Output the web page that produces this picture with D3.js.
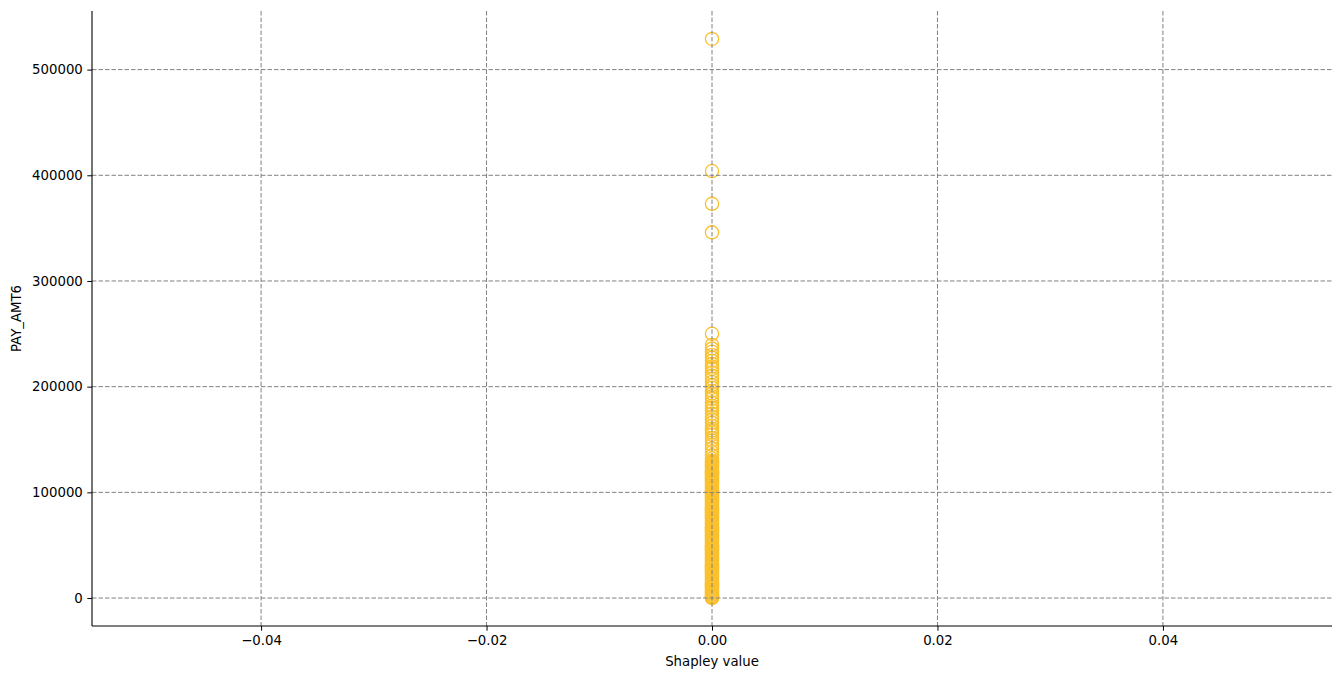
<!DOCTYPE html>
<html>
<head>
<meta charset="utf-8">
<script src="https://cdn.jsdelivr.net/npm/d3@7"></script>
<style>
  body { margin: 0; background: #fff; }
  text { font-family: "DejaVu Sans", sans-serif; }
</style>
</head>
<body>
<script>
// PAY_AMT6 values
var payAmt6 = [
  529000, 404000, 373000, 346000,
  250000, 239500, 236000, 233000, 230000, 227500, 224500, 221500,
  219000, 217000, 213500, 210500, 207500, 204500, 201500, 199000,
  196000, 193500, 191000, 188500, 185000, 182000, 180000, 177500,
  174500, 171500, 169000, 166000, 163000, 160500, 158500, 156500,
  154500, 151500, 149000, 145000, 141500, 138000, 135000, 132000,
  130000, 128000, 126000, 124000, 122000, 120000, 118000, 116000,
  114000, 112000, 110000, 108000, 106000, 104000, 102000, 100000,
  98000, 96000, 94000, 92000, 90000, 88000, 86000, 84000,
  82000, 80000, 78000, 76000, 74000, 72000, 70000, 68000,
  66000, 64000, 62000, 60000, 58000, 56000, 54000, 52000,
  50000, 48000, 46000, 44000, 42000, 40000, 38000, 36000,
  34000, 32000, 30000, 28000, 26000, 24000, 22000, 20000,
  18000, 16000, 14000, 12000, 10000, 9000, 8000, 7000,
  6000, 5000, 4000, 3000, 2000, 1500, 1000, 500,
  0,
  129000, 127000, 125000, 123000, 121000, 119000, 117000, 115000,
  113000, 111000, 109000, 107000, 105000, 103000, 101000, 99000,
  97000, 95000, 93000, 91000, 89000, 87000, 85000, 83000,
  81000, 79000, 77000, 75000, 73000, 71000, 69000, 67000,
  65000, 63000, 61000, 59000, 57000, 55000, 53000, 51000,
  49000, 47000, 45000, 43000, 41000, 39000, 37000, 35000,
  33000, 31000, 29000, 27000, 25000, 23000, 21000, 19000,
  17000, 15000, 13000, 11000
];
// Shapley value of each point (all zero in the picture)
var shapley = [
  0, 0, 0, 0,
  0, 0, 0, 0, 0, 0, 0, 0,
  0, 0, 0, 0, 0, 0, 0, 0,
  0, 0, 0, 0, 0, 0, 0, 0,
  0, 0, 0, 0, 0, 0, 0, 0,
  0, 0, 0, 0, 0, 0, 0, 0,
  0, 0, 0, 0, 0, 0, 0, 0,
  0, 0, 0, 0, 0, 0, 0, 0,
  0, 0, 0, 0, 0, 0, 0, 0,
  0, 0, 0, 0, 0, 0, 0, 0,
  0, 0, 0, 0, 0, 0, 0, 0,
  0, 0, 0, 0, 0, 0, 0, 0,
  0, 0, 0, 0, 0, 0, 0, 0,
  0, 0, 0, 0, 0, 0, 0, 0,
  0, 0, 0, 0, 0, 0, 0, 0,
  0,
  0, 0, 0, 0, 0, 0, 0, 0,
  0, 0, 0, 0, 0, 0, 0, 0,
  0, 0, 0, 0, 0, 0, 0, 0,
  0, 0, 0, 0, 0, 0, 0, 0,
  0, 0, 0, 0, 0, 0, 0, 0,
  0, 0, 0, 0, 0, 0, 0, 0,
  0, 0, 0, 0, 0, 0, 0, 0,
  0, 0, 0, 0
];
var xTicks = [-0.04, -0.02, 0, 0.02, 0.04];
var yTicks = [0, 100000, 200000, 300000, 400000, 500000];

var width = 1341, height = 679;
var margin = {top: 11, right: 9, bottom: 53, left: 92};
var pointColor = "#fbc12d";

var svg = d3.select("body").append("svg")
    .attr("width", width)
    .attr("height", height);

var x = d3.scaleLinear()
    .domain([-0.055, 0.055])
    .range([margin.left, width - margin.right]);

// matplotlib style 5% padding around the data
var yMax = d3.max(payAmt6);
var pad = yMax * 0.05;
var y = d3.scaleLinear()
    .domain([-pad, yMax + pad])
    .range([height - margin.bottom, margin.top]);

var points = payAmt6.map(function(v, i) { return {x: shapley[i], y: v}; });

// points
svg.append("g")
    .selectAll("circle")
    .data(points)
    .enter()
    .append("circle")
    .attr("cx", function(d) { return x(d.x); })
    .attr("cy", function(d) { return y(d.y); })
    .attr("r", 6.6)
    .attr("fill", "none")
    .attr("stroke", pointColor)
    .attr("stroke-width", 1.3);

// grid, drawn over the points like the reference
var grid = svg.append("g");
grid.selectAll(".vg")
    .data(xTicks)
    .enter().append("line")
    .attr("x1", function(d) { return x(d); })
    .attr("x2", function(d) { return x(d); })
    .attr("y1", margin.top)
    .attr("y2", height - margin.bottom)
    .attr("stroke", "#808080")
    .attr("stroke-width", 1)
    .attr("stroke-dasharray", "4.5,2");
grid.selectAll(".hg")
    .data(yTicks)
    .enter().append("line")
    .attr("x1", margin.left)
    .attr("x2", width - margin.right)
    .attr("y1", function(d) { return y(d); })
    .attr("y2", function(d) { return y(d); })
    .attr("stroke", "#808080")
    .attr("stroke-width", 1)
    .attr("stroke-dasharray", "4.5,2");

// axes
var xAxis = d3.axisBottom(x)
    .tickValues(xTicks)
    .tickSize(4.7)
    .tickPadding(4.5)
    .tickFormat(function(d) { return d3.format(".2f")(d).replace("-", "\u2212"); });
var yAxis = d3.axisLeft(y)
    .tickValues(yTicks)
    .tickSize(4.7)
    .tickPadding(4.5)
    .tickFormat(d3.format("d"));

var gx = svg.append("g")
    .attr("transform", "translate(0," + (height - margin.bottom) + ")")
    .call(xAxis);
var gy = svg.append("g")
    .attr("transform", "translate(" + margin.left + ",0)")
    .call(yAxis);

[gx, gy].forEach(function(g) {
    g.select(".domain").remove();
    g.selectAll("text")
        .attr("font-size", "13.3px")
        .attr("font-family", "DejaVu Sans, sans-serif")
        .attr("fill", "#000");
    g.selectAll("line").attr("stroke", "#000").attr("stroke-width", 1);
});

// left and bottom spines only
svg.append("line")
    .attr("x1", margin.left).attr("x2", margin.left)
    .attr("y1", margin.top).attr("y2", height - margin.bottom)
    .attr("stroke", "#000").attr("stroke-width", 1.1);
svg.append("line")
    .attr("x1", margin.left).attr("x2", width - margin.right)
    .attr("y1", height - margin.bottom).attr("y2", height - margin.bottom)
    .attr("stroke", "#000").attr("stroke-width", 1.1);

// axis labels
svg.append("text")
    .attr("x", (margin.left + width - margin.right) / 2)
    .attr("y", 666)
    .attr("text-anchor", "middle")
    .attr("font-size", "13.3px")
    .text("Shapley value");

svg.append("text")
    .attr("transform", "translate(21," + ((margin.top + height - margin.bottom) / 2) + ") rotate(-90)")
    .attr("text-anchor", "middle")
    .attr("font-size", "13.3px")
    .text("PAY_AMT6");
</script>
</body>
</html>
